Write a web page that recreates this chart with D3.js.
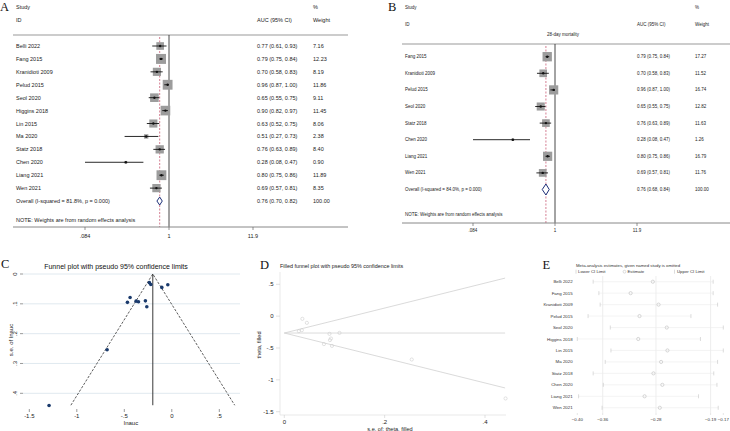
<!DOCTYPE html>
<html><head><meta charset="utf-8">
<script src="https://cdn.jsdelivr.net/npm/d3@7"></script>
<style>body{margin:0;background:#fff;} svg{display:block;font-family:"Liberation Sans",Arial,sans-serif;}</style>
</head><body><svg id="c" width="730" height="431"></svg>
<script>
// ---------- DATA ----------
const studiesA = ["Belli 2022","Fang 2015","Kranidioti 2009","Pelud 2015","Seol 2020","Higgins 2018","Lin 2015","Ma 2020","Statz 2018","Chen 2020","Liang 2021","Wen 2021"];
const aucA    = [0.77,0.79,0.70,0.96,0.65,0.90,0.63,0.51,0.76,0.28,0.80,0.69];
const lowA    = [0.61,0.75,0.58,0.87,0.55,0.82,0.52,0.27,0.63,0.08,0.75,0.57];
const highA   = [0.93,0.84,0.83,1.00,0.75,0.97,0.75,0.73,0.89,0.47,0.86,0.81];
const weightA = [7.16,12.23,8.19,11.86,9.11,11.45,8.06,2.38,8.40,0.90,11.89,8.35];
const overallA = [0.76,0.70,0.82];
const overallLabelA = "Overall  (I-squared = 81.8%, p = 0.000)";

const studiesB = ["Fang 2015","Kranidioti 2009","Pelud 2015","Seol 2020","Statz 2018","Chen 2020","Liang 2021","Wen 2021"];
const aucB    = [0.79,0.70,0.96,0.65,0.76,0.28,0.80,0.69];
const lowB    = [0.75,0.58,0.87,0.55,0.63,0.08,0.75,0.57];
const highB   = [0.84,0.83,1.00,0.75,0.89,0.47,0.86,0.81];
const weightB = [17.27,11.52,16.74,12.82,11.63,1.26,16.79,11.76];
const overallB = [0.76,0.68,0.84];
const overallLabelB = "Overall  (I-squared = 84.0%, p = 0.000)";
const subgroupB = "28-day mortality";

const forestTicks = [0.084, 1, 11.9];
const forestTickLabels = [".084","1","11.9"];
const noteText = "NOTE: Weights are from random effects analysis";

// funnel (C) and filled funnel (D)
const lnauc    = [-0.236,-0.221,-0.105,-0.042,-0.439,-0.467,-0.376,-0.351,-0.278,-0.263,-0.681,-1.292];
const seLnauc  = [0.029,0.035,0.045,0.036,0.079,0.095,0.091,0.093,0.090,0.110,0.254,0.441];
const funnelPooled = -0.2;
const funnelMaxSe = 0.44;
const funnelXTicks = [-1.5,-1,-0.5,0,0.5];
const funnelXLabels = ["-1.5","-1","-.5","0",".5"];
const funnelYTicks = [0,0.1,0.2,0.3,0.4];
const funnelYLabels = ["0",".1",".2",".3",".4"];

const filledPooled = -0.265;
const filledXTicks = [0,0.2,0.4];
const filledXLabels = ["0",".2",".4"];
const filledYTicks = [0.5,0,-0.5,-1,-1.5];
const filledYLabels = [".5","0","-.5","-1","-1.5"];

// influence (E)
const infStudies = ["Belli 2022","Fang 2015","Kranidioti 2009","Pelud 2015","Seol 2020","Higgins 2018","Lin 2015","Ma 2020","Statz 2018","Chen 2020","Liang 2021","Wen 2021"];
const infEst  = [-0.281,-0.316,-0.272,-0.302,-0.259,-0.304,-0.258,-0.268,-0.280,-0.266,-0.294,-0.270];
const infLow  = [-0.375,-0.366,-0.364,-0.383,-0.348,-0.400,-0.347,-0.356,-0.375,-0.359,-0.398,-0.361];
const infHigh = [-0.186,-0.186,-0.179,-0.221,-0.170,-0.206,-0.170,-0.179,-0.185,-0.180,-0.209,-0.178];
const infTicks = [-0.40,-0.36,-0.276,-0.19,-0.17];
const infOverall = [-0.36,-0.276,-0.19];

// ---------- DRAW ----------
const svg = d3.select("#c");
svg.append("rect").attr("width",730).attr("height",431).attr("fill","#fff");
const f2 = d3.format(".2f");
const serif = "'Liberation Serif','Times New Roman',serif";

function letter(t,x,y){
  svg.append("text").attr("x",x).attr("y",y).attr("font-family",serif).attr("font-size",12.5).attr("fill","#111").text(t);
}
function txt(g,t,x,y,fs,opt={}){
  return g.append("text").attr("x",x).attr("y",y).attr("font-size",fs)
    .attr("dominant-baseline","central").attr("text-anchor",opt.anchor||"start")
    .attr("fill",opt.fill||"#222").text(t);
}

function forest(c){
  const g = svg.append("g");
  const x = d3.scaleLog().domain([forestTicks[0], forestTicks[2]]).range([c.x0, c.x1]);
  const y = d3.scaleLinear().domain([0,1]).range([c.row0, c.row0 + c.dy]);
  const fs = c.fs;
  txt(g,"Study",c.lx,c.hy1,fs); txt(g,"ID",c.lx,c.hy2,fs);
  txt(g,"%",c.wx,c.hy1,fs); txt(g,"AUC (95% CI)",c.ax,c.hy2,fs); txt(g,"Weight",c.wx,c.hy2,fs);
  if(c.sub) txt(g,c.sub,c.subx,c.suby,fs);
  g.append("line").attr("x1",c.lineL).attr("x2",c.lineR).attr("y1",c.topY).attr("y2",c.topY).attr("stroke","#999").attr("stroke-width",1);
  g.append("line").attr("x1",x(1)).attr("x2",x(1)).attr("y1",c.topY).attr("y2",c.axisY).attr("stroke","#333").attr("stroke-width",0.9);
  g.append("line").attr("x1",x(c.overall[0])).attr("x2",x(c.overall[0])).attr("y1",c.topY+2).attr("y2",c.axisY)
    .attr("stroke","#cf6f86").attr("stroke-width",0.9).attr("stroke-dasharray","2,1.5");
  const n = c.studies.length;
  c.studies.forEach((s,i)=>{
    const yy = y(i);
    txt(g,s,c.lx,yy,fs);
    txt(g,`${f2(c.auc[i])} (${f2(c.low[i])}, ${f2(c.high[i])})`,c.ax,yy,fs);
    txt(g,f2(c.weight[i]),c.wx,yy,fs);
    const side = c.k*Math.sqrt(c.weight[i]);
    g.append("rect").attr("x",x(c.auc[i])-side/2).attr("y",yy-side/2).attr("width",side).attr("height",side).attr("fill","#9c9c9c");
    const lo = Math.max(c.low[i], forestTicks[0]);
    g.append("line").attr("x1",x(lo)).attr("x2",x(c.high[i])).attr("y1",yy).attr("y2",yy).attr("stroke","#111").attr("stroke-width",0.9);
    g.append("circle").attr("cx",x(c.auc[i])).attr("cy",yy).attr("r",1.2).attr("fill","#111");
  });
  const yo = y(n);
  txt(g,c.overallLabel,c.lx,yo,fs);
  txt(g,`${f2(c.overall[0])} (${f2(c.overall[1])}, ${f2(c.overall[2])})`,c.ax,yo,fs);
  txt(g,"100.00",c.wx,yo,fs);
  const h = c.dh;
  g.append("path").attr("d",`M${x(c.overall[1])},${yo}L${x(c.overall[0])},${yo-h}L${x(c.overall[2])},${yo}L${x(c.overall[0])},${yo+h}Z`)
    .attr("fill","#fff").attr("stroke","#1d2f78").attr("stroke-width",1);
  txt(g,noteText,c.lx,c.noteY,fs);
  g.append("line").attr("x1",c.lineL).attr("x2",c.lineR).attr("y1",c.axisY).attr("y2",c.axisY).attr("stroke","#888").attr("stroke-width",1);
  forestTicks.forEach((t,i)=>{
    g.append("line").attr("x1",x(t)).attr("x2",x(t)).attr("y1",c.axisY).attr("y2",c.axisY+3).attr("stroke","#666").attr("stroke-width",0.7);
    txt(g,forestTickLabels[i],x(t),c.tickY,fs,{anchor:"middle"});
  });
}

letter("A",0,11);
forest({studies:studiesA,auc:aucA,low:lowA,high:highA,weight:weightA,overall:overallA,overallLabel:overallLabelA,
  x0:85,x1:253,row0:46,dy:12.92,fs:5.5,k:2.85,dh:4,
  lx:16,ax:257,wx:313,hy1:7,hy2:20,topY:35,lineL:13,lineR:348,axisY:227,noteY:220,tickY:236});

letter("B",388,11);
forest({studies:studiesB,auc:aucB,low:lowB,high:highB,weight:weightB,overall:overallB,overallLabel:overallLabelB,
  sub:subgroupB,subx:547,suby:34,
  x0:473,x1:637,row0:56.7,dy:16.6,fs:4.5,k:2.25,dh:5.5,
  lx:405,ax:637,wx:695,hy1:7,hy2:24,topY:44,lineL:402,lineR:730,axisY:223,noteY:214,tickY:230});

// ---------- C funnel ----------
(function(){
  const g = svg.append("g");
  const x = d3.scaleLinear().domain([-1.5,0.5]).range([29.3,219.3]);
  const y = d3.scaleLinear().domain([0,0.4]).range([274,393.3]);
  funnelYTicks.forEach((t,i)=>{
    g.append("line").attr("x1",23).attr("x2",240).attr("y1",y(t)).attr("y2",y(t)).attr("stroke","#dce6ed").attr("stroke-width",0.9);
    g.append("line").attr("x1",20).attr("x2",23).attr("y1",y(t)).attr("y2",y(t)).attr("stroke","#555").attr("stroke-width",0.6);
    g.append("text").attr("transform",`translate(17,${y(t)}) rotate(-90)`).attr("text-anchor","middle")
      .attr("font-size",6).attr("fill","#222").text(funnelYLabels[i]);
  });
  funnelXTicks.forEach((t,i)=>{
    g.append("line").attr("x1",x(t)).attr("x2",x(t)).attr("y1",409).attr("y2",412).attr("stroke","#555").attr("stroke-width",0.6);
    txt(g,funnelXLabels[i],x(t),416,6,{anchor:"middle"});
  });
  const yb = y(funnelMaxSe);
  g.append("path").attr("d",`M${x(funnelPooled-1.96*funnelMaxSe)},${yb}L${x(funnelPooled)},${y(0)}L${x(funnelPooled+1.96*funnelMaxSe)},${yb}`)
    .attr("fill","none").attr("stroke","#333").attr("stroke-width",0.8).attr("stroke-dasharray","2.5,1.5");
  g.append("line").attr("x1",x(funnelPooled)).attr("x2",x(funnelPooled)).attr("y1",y(0)).attr("y2",yb).attr("stroke","#222").attr("stroke-width",0.9);
  lnauc.forEach((v,i)=>{
    g.append("circle").attr("cx",x(v)).attr("cy",y(seLnauc[i])).attr("r",1.8).attr("fill","#1a3a6c");
  });
  txt(g,"Funnel plot with pseudo 95% confidence limits",116,266,7,{anchor:"middle",fill:"#111"});
  txt(g,"lnauc",131,423,6,{anchor:"middle"});
  g.append("text").attr("transform","translate(11,340) rotate(-90)").attr("text-anchor","middle").attr("dominant-baseline","central")
    .attr("font-size",6).attr("fill","#222").text("s.e. of lnauc");
})();
letter("C",1,268);

// ---------- D filled funnel ----------
(function(){
  const g = svg.append("g");
  const x = d3.scaleLinear().domain([0,0.4]).range([284.3,485]);
  const y = d3.scaleLinear().domain([-1.5,0.5]).range([411.7,284.3]);
  g.append("line").attr("x1",280).attr("x2",280).attr("y1",272).attr("y2",415).attr("stroke","#e3e3e3").attr("stroke-width",0.8);
  g.append("line").attr("x1",280).attr("x2",506).attr("y1",415).attr("y2",415).attr("stroke","#e3e3e3").attr("stroke-width",0.8);
  filledYTicks.forEach((t,i)=>{
    g.append("line").attr("x1",276).attr("x2",280).attr("y1",y(t)).attr("y2",y(t)).attr("stroke","#ccc").attr("stroke-width",0.6);
    txt(g,filledYLabels[i],273.5,y(t),6,{anchor:"end"});
  });
  filledXTicks.forEach((t,i)=>{
    g.append("line").attr("x1",x(t)).attr("x2",x(t)).attr("y1",415).attr("y2",418).attr("stroke","#ccc").attr("stroke-width",0.6);
    txt(g,filledXLabels[i],x(t),422,6,{anchor:"middle"});
  });
  const se = funnelMaxSe;
  g.append("line").attr("x1",x(0)).attr("x2",x(se)).attr("y1",y(filledPooled)).attr("y2",y(filledPooled)).attr("stroke","#d6d6d6").attr("stroke-width",0.9);
  g.append("path").attr("d",`M${x(se)},${y(filledPooled+1.96*se)}L${x(0)},${y(filledPooled)}L${x(se)},${y(filledPooled-1.96*se)}`)
    .attr("fill","none").attr("stroke","#d6d6d6").attr("stroke-width",0.9);
  lnauc.forEach((v,i)=>{
    g.append("circle").attr("cx",x(seLnauc[i])).attr("cy",y(v)).attr("r",1.6).attr("fill","none").attr("stroke","#cfcfcf").attr("stroke-width",0.6);
  });
  txt(g,"Filled funnel plot with pseudo 95% confidence limits",280,266,5.4);
  txt(g,"s.e. of: theta, filled",390,428.5,5.6,{anchor:"middle"});
  g.append("text").attr("transform","translate(259,345) rotate(-90)").attr("text-anchor","middle").attr("dominant-baseline","central")
    .attr("font-size",5.6).attr("fill","#222").text("theta, filled");
})();
letter("D",260,269);

// ---------- E influence ----------
(function(){
  const g = svg.append("g");
  const x = d3.scaleLinear().domain([-0.40,-0.17]).range([577.3,723.3]);
  const y = d3.scaleLinear().domain([0,1]).range([281.7,293.16]);
  const fs = 4.4;
  infOverall.forEach(v=>{
    g.append("line").attr("x1",x(v)).attr("x2",x(v)).attr("y1",276).attr("y2",413).attr("stroke","#e6e6e6").attr("stroke-width",0.7);
  });
  infStudies.forEach((s,i)=>{
    const yy = y(i);
    txt(g,s,572.7,yy,fs,{anchor:"end",fill:"#333"});
    g.append("line").attr("x1",x(infLow[i])).attr("x2",x(infHigh[i])).attr("y1",yy).attr("y2",yy).attr("stroke","#ececec").attr("stroke-width",0.6);
    [infLow[i],infHigh[i]].forEach(v=>{
      g.append("line").attr("x1",x(v)).attr("x2",x(v)).attr("y1",yy-2).attr("y2",yy+2).attr("stroke","#c4c4c4").attr("stroke-width",0.6);
    });
    g.append("circle").attr("cx",x(infEst[i])).attr("cy",yy).attr("r",1.6).attr("fill","none").attr("stroke","#bdbdbd").attr("stroke-width",0.6);
  });
  infTicks.forEach(t=>{
    g.append("line").attr("x1",x(t)).attr("x2",x(t)).attr("y1",413).attr("y2",415).attr("stroke","#ccc").attr("stroke-width",0.5);
    txt(g,f2(t),x(t),419,fs,{anchor:"middle",fill:"#333"});
  });
  txt(g,"Meta-analysis estimates, given named study is omitted",576,265,4.3,{fill:"#333"});
  const ly = 271.7;
  g.append("line").attr("x1",576).attr("x2",576).attr("y1",ly-2).attr("y2",ly+2).attr("stroke","#c4c4c4").attr("stroke-width",0.6);
  txt(g,"Lower CI Limit",578,ly,4.3,{fill:"#333"});
  g.append("circle").attr("cx",624.5).attr("cy",ly).attr("r",1.4).attr("fill","none").attr("stroke","#c4c4c4").attr("stroke-width",0.6);
  txt(g,"Estimate",627.5,ly,4.3,{fill:"#333"});
  g.append("line").attr("x1",674.5).attr("x2",674.5).attr("y1",ly-2).attr("y2",ly+2).attr("stroke","#c4c4c4").attr("stroke-width",0.6);
  txt(g,"Upper CI Limit",677,ly,4.3,{fill:"#333"});
})();
letter("E",542.5,269);
</script></body></html>
